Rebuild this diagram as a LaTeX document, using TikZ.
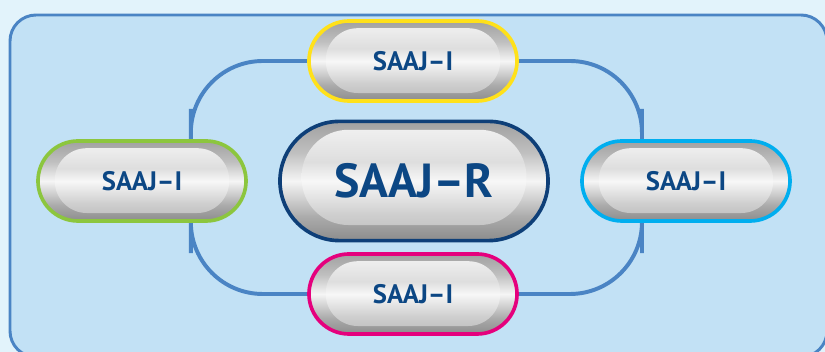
\documentclass[tikz,border=0pt]{standalone}
\usepackage{fontspec}
\setmainfont{PT Sans}
\usepackage{tikz}
\usetikzlibrary{shapes.misc}
\usetikzlibrary{backgrounds}

\definecolor{pageblue}{HTML}{E2F3FB}
\definecolor{boxblue}{HTML}{C2E1F5}
\definecolor{lineblue}{HTML}{4A84C4}
\definecolor{saajnavy}{HTML}{0C4784}
\definecolor{rimnavy}{HTML}{0E3F78}
\definecolor{rimyellow}{HTML}{FFE11A}
\definecolor{rimgreen}{HTML}{8CC63E}
\definecolor{rimcyan}{HTML}{00AEEF}
\definecolor{rimmagenta}{HTML}{E5007D}

\pgfdeclareverticalshading{metalout}{100bp}{color(0bp)=(black!45); color(25bp)=(black!45); color(35bp)=(black!33); color(50bp)=(black!4); color(62bp)=(black!25); color(75bp)=(black!37); color(100bp)=(black!37)}
\pgfdeclareverticalshading{metalin}{100bp}{color(0bp)=(black!27); color(25bp)=(black!27); color(36bp)=(black!19); color(50bp)=(black!3); color(58bp)=(black!13); color(70bp)=(black!7); color(75bp)=(black!5); color(100bp)=(black!5)}

\tikzset{
	pill/.style={shape=rounded rectangle, draw=#1, line width=2.6pt, shading=metalout, text=saajnavy, inner sep=0pt},
	pilli/.style={pill=#1, minimum width=5.2cm, minimum height=2cm, font=\fontsize{19}{19}\selectfont\bfseries,
		path picture={\shade[shading=metalin, rounded corners=0.8cm] ([shift={(0.42cm,0.2cm)}]path picture bounding box.south west) rectangle ([shift={(-0.42cm,-0.18cm)}]path picture bounding box.north east);}},
	pillr/.style={pill=#1, minimum width=6.7cm, minimum height=2.98cm, font=\fontsize{34}{34}\selectfont\bfseries,
		path picture={\shade[shading=metalin, rounded corners=1.17cm] ([shift={(0.54cm,0.39cm)}]path picture bounding box.south west) rectangle ([shift={(-0.54cm,-0.21cm)}]path picture bounding box.north east);}},
	ring/.style={draw=lineblue, line width=2.8pt, rounded corners=1.8cm},
}

\begin{document}
\begin{tikzpicture}[x=0.025cm, y=-0.025cm]
		\useasboundingbox (0, 0) rectangle (825, 352);
		% Pills:
		\node[pillr=rimnavy](mid) at (414, 181){SAAJ–R};
		\node[pilli=rimyellow](top) at (413, 61){SAAJ–I};
		\node[pilli=rimgreen](left) at (142, 181){SAAJ–I};
		\node[pilli=rimcyan](right) at (686, 181){SAAJ–I};
		\node[pilli=rimmagenta](bottom) at (413, 294){SAAJ–I};
		% Frame and ring behind the pills:
		\begin{scope}[on background layer]
			\fill[pageblue] (0, 0) rectangle (825, 352);
			\draw[fill=boxblue, draw=lineblue, line width=2.1pt, rounded corners=0.65cm] (10, 15) rectangle (827, 357);
			\draw[ring] (top.center) -| ([xshift=1.22cm]left.center) |- (bottom.center) -| ([xshift=-1.1cm]right.center) |- (top.center);
		\end{scope}
	\end{tikzpicture}
\end{document}
